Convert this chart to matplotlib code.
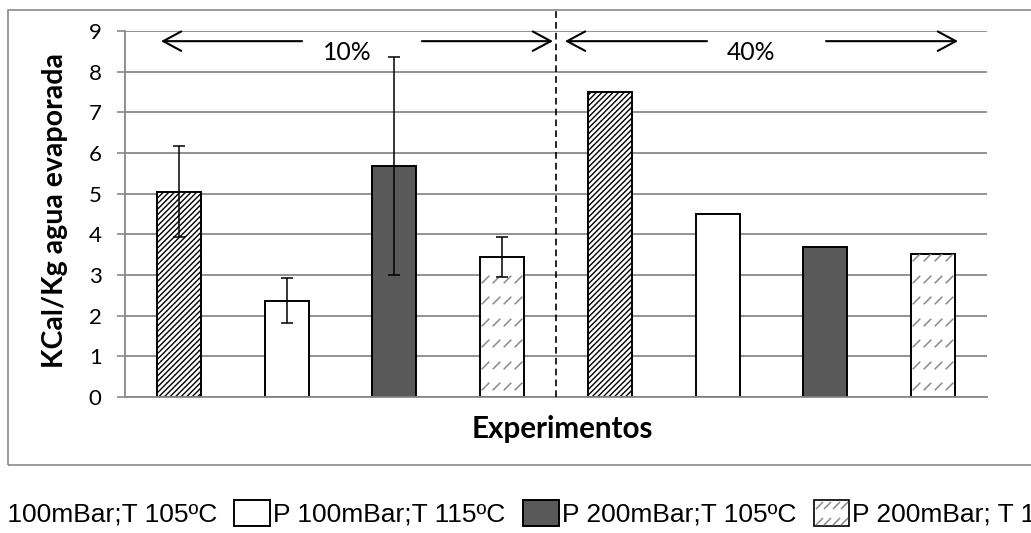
import numpy as np
import matplotlib
matplotlib.use("Agg")
import matplotlib.pyplot as plt
from matplotlib.patches import Rectangle
from matplotlib.path import Path
from matplotlib.lines import Line2D
from matplotlib.legend_handler import HandlerBase

# --------------------------------------------------
# Datos
# --------------------------------------------------
condiciones = ["P 100mBar;T 105ºC", "P 100mBar;T 115ºC",
               "P 200mBar;T 105ºC", "P 200mBar; T 115ºC"]
grupos = ["10%", "40%"]
kcal_10 = [5.05, 2.37, 5.68, 3.44]
err_10 = [1.12, 0.56, 2.68, 0.50]
kcal_40 = [7.50, 4.50, 3.70, 3.52]
y_ticks = list(range(0, 10))

# --------------------------------------------------
# Estilo
# --------------------------------------------------
plt.rcParams["font.family"] = ["Lato", "DejaVu Sans"]
plt.rcParams["hatch.linewidth"] = 1.0

gris = "#898989"
gris_raya = "#8a8a8a"
estilos = [
    dict(facecolor="white", hatch="//////"),
    dict(facecolor="white"),
    dict(facecolor="#595959"),
    dict(facecolor="white"),   # rayado discontinuo se dibuja aparte
]
# trazo diagonal corto para el rayado discontinuo
raya = Path([(-0.5, -0.5), (0.5, 0.5)], [Path.MOVETO, Path.LINETO])


class RayadoHandler(HandlerBase):
    def create_artists(self, legend, orig_handle, xdescent, ydescent,
                       width, height, fontsize, trans):
        caja = Rectangle((-xdescent, -ydescent), width, height,
                         facecolor="white", edgecolor="black",
                         linewidth=1.2, transform=trans)
        xs, ys = np.meshgrid(np.linspace(0.15, 0.85, 4) * width - xdescent,
                             np.array([0.18, 0.82]) * height - ydescent)
        marcas = Line2D(xs.ravel(), ys.ravel(), ls="none", marker=raya,
                        markersize=5, markeredgewidth=1.1, color=gris_raya,
                        transform=trans)
        return [caja, marcas]


fig = plt.figure(figsize=(10.31, 5.33), dpi=100)
ax = fig.add_axes([125 / 1031, 1 - 397 / 533, 862 / 1031, 366 / 533])

# --------------------------------------------------
# Barras
# --------------------------------------------------
n = len(condiciones)
ancho = 0.41
barras = []
for i, cond in enumerate(condiciones):
    b = ax.bar([i, n + i], [kcal_10[i], kcal_40[i]], width=ancho,
               edgecolor="black", linewidth=1.4, label=cond, zorder=2,
               **estilos[i])
    barras.append(b)

for rect in barras[3]:
    x0, w, h = rect.get_x(), rect.get_width(), rect.get_height()
    gx, gy = np.meshgrid(np.arange(x0 + 0.05, x0 + w, 0.1),
                         np.arange(0.26, h, 0.53))
    pts, = ax.plot(gx.ravel(), gy.ravel(), ls="none", marker=raya,
                   markersize=5.5, markeredgewidth=1.1, color=gris_raya,
                   zorder=2.5)
    pts.set_clip_path(rect)

# barras de error (solo 10%)
ax.errorbar(range(n), kcal_10, yerr=err_10, fmt="none", ecolor="black",
            elinewidth=1.1, capsize=4.5, capthick=1.1, zorder=3)

# separador entre concentraciones
ax.plot([n - 0.5, n - 0.5], [0, 9.55], ls=(0, (4, 2.5)), color="black",
        lw=1.2, clip_on=False, zorder=4)

# flechas con el porcentaje
flechas = [(-0.166, 1.143, 2.256, 3.472, 1.56),
           (3.583, 4.901, 6.006, 7.231, 5.31)]
estilo_flecha = dict(arrowstyle="->,head_length=1.3,head_width=0.7",
                     lw=1.5, color="black", mutation_scale=10,
                     shrinkA=0, shrinkB=0)
for (xa, xb, xc, xd, xt), g in zip(flechas, grupos):
    ax.annotate("", xy=(xa, 8.75), xytext=(xb, 8.75),
                arrowprops=estilo_flecha, annotation_clip=False)
    ax.annotate("", xy=(xd, 8.75), xytext=(xc, 8.75),
                arrowprops=estilo_flecha, annotation_clip=False)
    ax.text(xt, 8.48, g, ha="center", va="center", fontsize=17.8)

# --------------------------------------------------
# Ejes
# --------------------------------------------------
ax.set_xlim(-0.5, 2 * n - 0.5)
ax.set_ylim(0, 9)
ax.set_yticks(y_ticks)
ax.set_xticks([])
ax.tick_params(axis="y", length=5.8, width=1.2, color=gris, pad=11,
               labelsize=16)
ax.grid(axis="y", color=gris, lw=1.3)
ax.set_axisbelow(True)
for s in ["top", "right"]:
    ax.spines[s].set_visible(False)
for s in ["left", "bottom"]:
    ax.spines[s].set_color(gris)
    ax.spines[s].set_linewidth(1.3)

ax.set_ylabel("KCal/Kg agua evaporada", fontsize=20.5, fontweight="bold")
ax.yaxis.set_label_coords(-0.066, 0.51)
ax.set_xlabel("Experimentos", fontsize=21.3, fontweight="bold")
ax.xaxis.set_label_coords(0.507, -0.05)

# marco exterior
fig.patches.append(Rectangle((7.5 / 1031, 1 - 465 / 533), 1.2, 455 / 533,
                             transform=fig.transFigure, fill=False,
                             edgecolor=gris, lw=1.2))

fig.legend(handles=barras, labels=condiciones, ncol=4, loc="upper left",
           bbox_to_anchor=(-56 / 1031, 1 - 500 / 533), frameon=False,
           prop={"family": "Liberation Sans", "size": 19},
           handlelength=1.36, handleheight=1.14, handletextpad=0.11,
           columnspacing=0.66, borderpad=0, borderaxespad=0,
           handler_map={barras[3]: RayadoHandler()})

fig.savefig("out.png", dpi=100)
